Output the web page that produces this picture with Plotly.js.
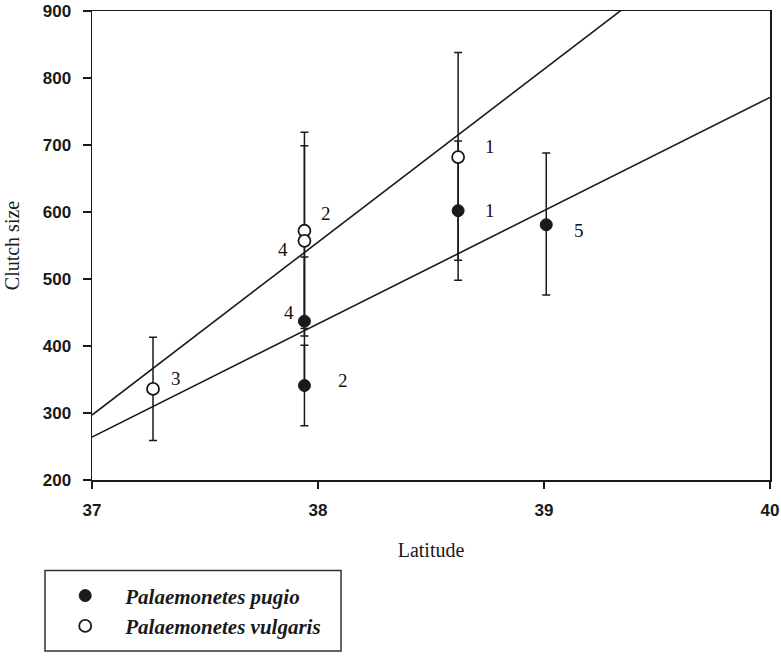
<!DOCTYPE html>
<html>
<head>
<meta charset="utf-8">
<script src="https://cdn.plot.ly/plotly-3.0.1.min.js"></script>
<style>html,body{margin:0;padding:0;background:#fff;}#chart{width:781px;height:657px;}</style>
</head>
<body>
<div id="chart"></div>
<script>
// ---- data ----
const pugioLat = [37.94, 37.94, 38.62, 39.01];
const pugioSize = [437, 341, 602, 581];
const pugioErrPlus = [96, 60, 104, 107];
const pugioErrMinus = [96, 60, 104, 105];
const pugioN = [4, 2, 1, 5];

const vulgLat = [37.27, 37.94, 37.94, 38.62];
const vulgSize = [336, 572, 557, 682];
const vulgErrPlus = [77, 147, 142, 156];
const vulgErrMinus = [77, 146, 142, 154];
const vulgN = [3, 2, 4, 1];

// regression lines (endpoints at the axis range)
const fitLat = [37, 40];
const pugioFit = [264, 771];
const vulgFit = [297, 1071];

const xTicks = [37, 38, 39, 40];
const yTicks = [200, 300, 400, 500, 600, 700, 800, 900];

// label placement (pixel offsets, styling only)
const pugioLabelShift = [[-15, 9], [39, 5], [32, 0], [33, -6]];
const vulgLabelShift = [[23, 10], [22, 17], [-21, -9], [32, 11]];

const ink = '#1a1a1a';

const traces = [
  {x: fitLat, y: pugioFit, mode: 'lines', line: {color: ink, width: 1.6}, showlegend: false, hoverinfo: 'skip'},
  {x: fitLat, y: vulgFit, mode: 'lines', line: {color: ink, width: 1.6}, showlegend: false, hoverinfo: 'skip'},
  {
    x: pugioLat, y: pugioSize, mode: 'markers', name: '<b><i>Palaemonetes pugio</i></b>',
    marker: {symbol: 'circle', size: 12, color: ink, line: {color: ink, width: 1}},
    error_y: {type: 'data', symmetric: false, array: pugioErrPlus, arrayminus: pugioErrMinus,
              color: ink, thickness: 1.5, width: 4}
  },
  {
    x: vulgLat, y: vulgSize, mode: 'markers', name: '<b><i>Palaemonetes vulgaris</i></b>',
    marker: {symbol: 'circle', size: 12, color: '#ffffff', line: {color: ink, width: 1.8}},
    error_y: {type: 'data', symmetric: false, array: vulgErrPlus, arrayminus: vulgErrMinus,
              color: ink, thickness: 1.5, width: 4}
  }
];

const labelFont = {family: 'Liberation Serif, Times New Roman, serif', size: 19, color: '#111'};
const annotations = [];
pugioLat.forEach((lat, i) => annotations.push({
  x: lat, y: pugioSize[i], xref: 'x', yref: 'y', text: String(pugioN[i]), showarrow: false,
  xshift: pugioLabelShift[i][0], yshift: pugioLabelShift[i][1], font: labelFont
}));
vulgLat.forEach((lat, i) => annotations.push({
  x: lat, y: vulgSize[i], xref: 'x', yref: 'y', text: String(vulgN[i]), showarrow: false,
  xshift: vulgLabelShift[i][0], yshift: vulgLabelShift[i][1], font: labelFont
}));

const tickFont = {family: 'Liberation Sans, Arial, sans-serif', size: 17, color: ink, weight: 700};
const titleFont = {family: 'Liberation Serif, Times New Roman, serif', size: 20, color: ink};

const layout = {
  width: 781, height: 657,
  margin: {l: 92, r: 11, t: 11, b: 174},
  paper_bgcolor: '#fff', plot_bgcolor: '#fff',
  showlegend: true,
  xaxis: {
    range: [37, 40], tickvals: xTicks, ticktext: xTicks.map(String),
    showline: true, linecolor: ink, linewidth: 1.5, mirror: true,
    ticks: 'outside', ticklen: 7, tickwidth: 1.5, tickcolor: ink,
    showgrid: false, zeroline: false, tickfont: tickFont, ticklabelstandoff: 7,
    title: {text: 'Latitude', font: titleFont, standoff: 24}
  },
  yaxis: {
    range: [200, 900], tickvals: yTicks, ticktext: yTicks.map(String),
    showline: true, linecolor: ink, linewidth: 1.5, mirror: true,
    ticks: 'outside', ticklen: 8, tickwidth: 1.5, tickcolor: ink,
    showgrid: false, zeroline: false, tickfont: tickFont, ticklabelstandoff: 8,
    title: {text: 'Clutch size', font: titleFont, standoff: 17}
  },
  legend: {
    x: -0.069, y: -0.2035, xanchor: 'left', yanchor: 'top',
    borderwidth: 0, bgcolor: 'rgba(0,0,0,0)',
    font: {family: 'Liberation Serif, Times New Roman, serif', size: 21, color: ink},
    itemwidth: 70, tracegroupgap: 0, traceorder: 'normal'
  },
  shapes: [{
    type: 'rect', xref: 'paper', yref: 'paper',
    x0: -0.0693, x1: 0.3673, y0: -0.3644, y1: -0.1928,
    line: {color: '#333', width: 1.5}, fillcolor: 'rgba(0,0,0,0)', layer: 'above'
  }],
  annotations: annotations
};

Plotly.newPlot('chart', traces, layout, {displayModeBar: false, staticPlot: true});
</script>
</body>
</html>
